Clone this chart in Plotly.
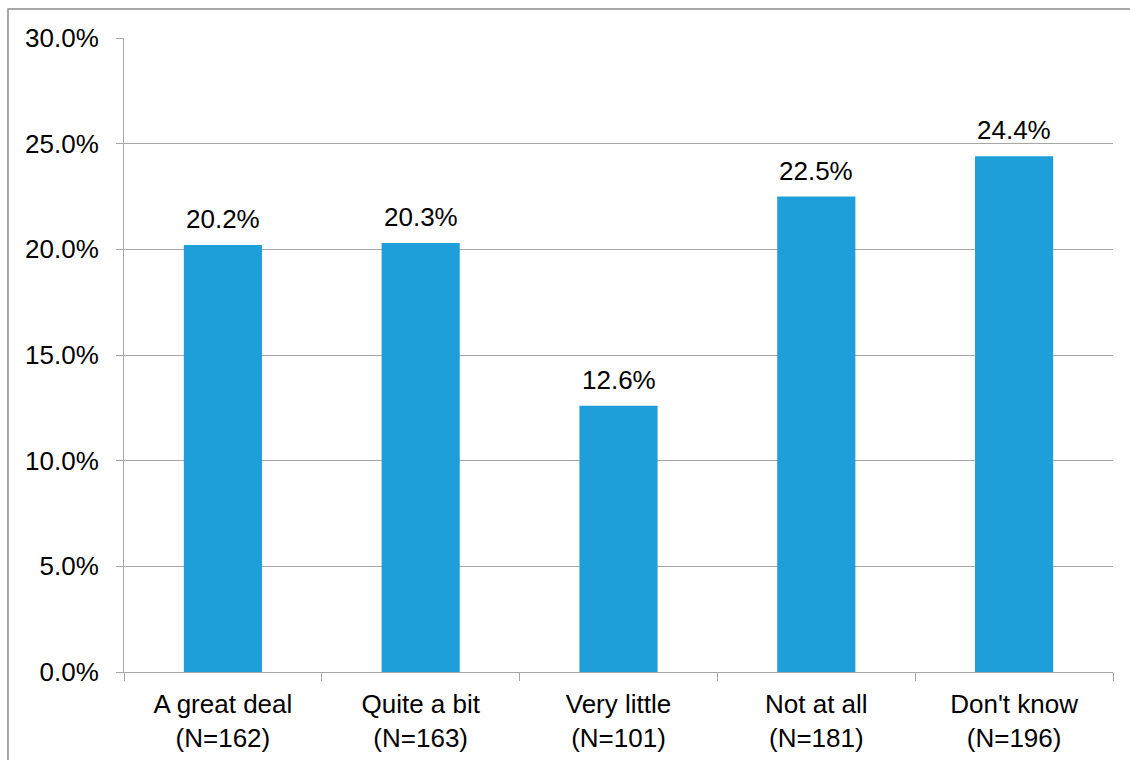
import plotly.graph_objects as go

categories = ["A great deal<br>(N=162)", "Quite a bit<br>(N=163)", "Very little<br>(N=101)",
              "Not at all<br>(N=181)", "Don't know<br>(N=196)"]
percent_values = [20.2, 20.3, 12.6, 22.5, 24.4]
y_tick_values = [0, 5, 10, 15, 20, 25, 30]
y_tick_labels = ["0.0%", "5.0%", "10.0%", "15.0%", "20.0%", "25.0%", "30.0%"]

BAR_COLOR = "#1F9FD9"
GRID_COLOR = "#A6A6A6"
FONT = "Liberation Sans, Arial, sans-serif"

fig = go.Figure(
    go.Bar(
        x=categories,
        y=percent_values,
        marker=dict(color=BAR_COLOR, line=dict(width=0)),
        hoverinfo="x+y",
    )
)

# Value labels above each bar
for cat, val in zip(categories, percent_values):
    fig.add_annotation(
        x=cat, y=val, xref="x", yref="y",
        text=f"{val:.1f}%",
        showarrow=False,
        yanchor="middle",
        yshift=26,
        font=dict(size=26, color="#000000", family=FONT),
    )

fig.update_layout(
    width=1130,
    height=760,
    margin=dict(l=124, r=17, t=38, b=88),
    paper_bgcolor="white",
    plot_bgcolor="white",
    bargap=0.605,
    showlegend=False,
    font=dict(family=FONT, size=26, color="#000000"),
)

fig.update_yaxes(
    range=[0, 30],
    tickvals=y_tick_values,
    ticktext=y_tick_labels,
    showgrid=True,
    gridcolor=GRID_COLOR,
    gridwidth=1,
    showline=True,
    linecolor=GRID_COLOR,
    linewidth=1,
    ticks="outside",
    ticklen=7,
    tickcolor=GRID_COLOR,
    ticklabelstandoff=12,
    zeroline=False,
    automargin=False,
    tickfont=dict(size=26, family=FONT, color="#000000"),
)

fig.update_xaxes(
    showline=True,
    linecolor=GRID_COLOR,
    linewidth=1,
    ticks="outside",
    ticklen=8,
    tickcolor=GRID_COLOR,
    tickson="boundaries",
    ticklabelstandoff=9,
    showgrid=False,
    automargin=False,
    tickfont=dict(size=26, family=FONT, color="#000000"),
)

# Outer frame around the chart area
fig.add_shape(
    type="rect",
    xref="paper", yref="paper",
    x0=-0.1173, x1=1.05, y0=-0.3, y1=1.0457,
    line=dict(color="#8C8C8C", width=1.5),
    fillcolor="rgba(0,0,0,0)",
    layer="above",
)

fig.write_html("out.html")
